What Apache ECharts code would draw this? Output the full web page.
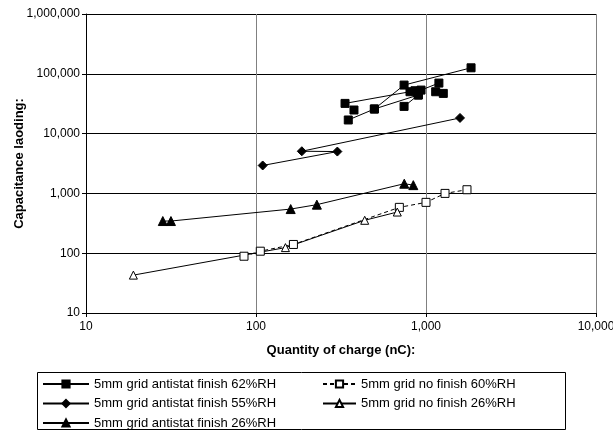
<!DOCTYPE html>
<html><head><meta charset="utf-8">
<script src="https://cdn.jsdelivr.net/npm/echarts@6/dist/echarts.min.js"></script>
<style>html,body{margin:0;padding:0;background:#fff}#c{width:613px;height:430px}</style>
</head><body><div id="c"></div>
<script>
// Axis ranges / ticks
const xTicks = [10, 100, 1000, 10000];
const yTicks = [10, 100, 1000, 10000, 100000, 1000000];

// 5mm grid antistat finish 62%RH
const s62x = [334, 377, 349, 497, 743, 743, 805, 861, 901, 935, 1191, 1140, 1264, 1841];
const s62y = [32000, 24800, 16900, 25800, 64800, 28500, 50100, 52100, 44200, 53400, 70000, 50100, 47000, 126000];
// order in which the points are joined; -1 = break in the line
const s62path = [2, 3, 4, 13, -1, 3, 8, -1, 0, 6, -1, 5, 8, -1, 9, 10, -1, 1, -1, 7, -1, 11, -1, 12];

// 5mm grid antistat finish 55%RH
const s55x = [109.5, 301, 186, 1585];
const s55y = [2930, 5010, 5070, 18270];

// 5mm grid antistat finish 26%RH
const s26x = [28.3, 31.6, 160, 228, 745, 842];
const s26y = [345, 345, 547, 648, 1452, 1375];

// 5mm grid no finish 60%RH
const n60x = [85, 106, 166, 697, 1000, 1294, 1742];
const n60y = [89, 108, 140, 584, 708, 1000, 1152];

// 5mm grid no finish 26%RH
const n26x = [19, 149, 436, 678];
const n26y = [43, 124, 355, 488];

const N62 = '5mm grid antistat finish 62%RH';
const N55 = '5mm grid antistat finish 55%RH';
const A26 = '5mm grid antistat finish 26%RH';
const N60 = '5mm grid no finish 60%RH';
const NN26 = '5mm grid no finish 26%RH';

const FONT = '"Liberation Sans", Arial, sans-serif';
const pair = (xs, ys) => xs.map((x, i) => [x, ys[i]]);
const fmt = v => Math.round(v).toLocaleString('en-US');

const chart = echarts.init(document.getElementById('c'), null, {renderer: 'canvas'});

const axisCommon = {
  type: 'log', logBase: 10,
  axisLine: {show: true, lineStyle: {color: '#000', width: 1}},
  axisTick: {show: true, length: 4, lineStyle: {color: '#000'}},
  minorTick: {show: false}, minorSplitLine: {show: false},
  axisLabel: {color: '#000', fontSize: 12, fontFamily: FONT, formatter: fmt},
  nameLocation: 'middle',
  nameTextStyle: {color: '#000', fontSize: 13, fontWeight: 'bold', fontFamily: FONT}
};

const lineSeries = (name, data, symbol, size, filled, dashed) => ({
  name, type: 'line', data, symbol, symbolSize: size,
  showAllSymbol: true, connectNulls: false, animation: false,
  itemStyle: {color: filled ? '#000' : '#fff', borderColor: '#000', borderWidth: 1},
  lineStyle: {color: '#000', width: 1, type: dashed ? [4, 3] : 'solid'},
  emphasis: {disabled: true}
});

const legendCommon = {
  orient: 'vertical', top: 377.5, itemHeight: 9, itemGap: 6.5, padding: 0, height: 120,
  textStyle: {color: '#000', fontSize: 13, fontFamily: FONT}, selectedMode: false
};

chart.setOption({
  animation: false,
  backgroundColor: '#fff',
  grid: {left: 86, right: 17, top: 14, bottom: 117, containLabel: false, outerBoundsMode: 'none'},
  xAxis: Object.assign({}, axisCommon, {
    min: xTicks[0], max: xTicks[xTicks.length - 1],
    splitLine: {show: true, lineStyle: {color: '#808080', width: 1}},
    axisLabel: Object.assign({}, axisCommon.axisLabel, {margin: 8}),
    name: 'Quantity of charge (nC):', nameGap: 31
  }),
  yAxis: Object.assign({}, axisCommon, {
    min: yTicks[0], max: yTicks[yTicks.length - 1],
    splitLine: {show: true, lineStyle: {color: '#000', width: 1}},
    axisLabel: Object.assign({}, axisCommon.axisLabel, {margin: 6}),
    name: 'Capacitance laoding:', nameGap: 60, nameRotate: 90, nameMoveOverlap: false
  }),
  legend: [
    Object.assign({}, legendCommon, {left: 42, itemWidth: 46, data: [N62, N55, A26]}),
    Object.assign({}, legendCommon, {left: 322, itemWidth: 33, data: [N60, NN26]})
  ],
  graphic: [{type: 'rect', shape: {x: 37.5, y: 372.5, width: 528, height: 57},
    style: {fill: 'none', stroke: '#000', lineWidth: 1}, silent: true}],
  series: [
    lineSeries(N62, s62path.map(i => i < 0 ? ['-', '-'] : [s62x[i], s62y[i]]), 'rect', 8, true, false),
    lineSeries(N55, pair(s55x, s55y), 'diamond', 9, true, false),
    lineSeries(A26, pair(s26x, s26y), 'triangle', 9, true, false),
    lineSeries(N60, pair(n60x, n60y), 'rect', 8, false, true),
    lineSeries(NN26, pair(n26x, n26y), 'triangle', 8, false, false)
  ]
});
</script></body></html>
